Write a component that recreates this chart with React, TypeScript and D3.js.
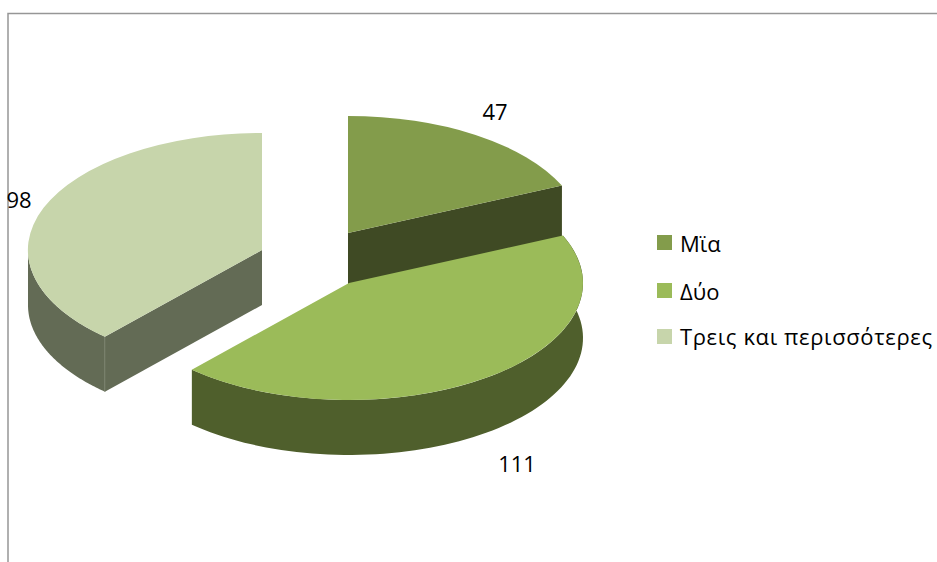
import React from "react";
import * as d3 from "d3";

const categories = ["Μϊα", "Δύο", "Τρεις και περισσότερες"];
const values = [47, 111, 98];
const topColors = ["#839c4b", "#9bbb59", "#c7d5ab"];
const sideColors = ["#3f4a24", "#4f5f2c", "#636b55"];
const rimColors = ["#3f4a24", "#4f5f2c", "#636b55"];
const centers: [number, number][] = [[348, 233], [349, 283], [262, 250]];
const labelPos: [number, number][] = [[495, 120], [517, 472], [19, 208]];
const legendY = [235, 283, 329];
const legendBase = [252, 300, 345];

const W = 937, H = 562, RX = 234, RY = 117, DEPTH = 55;
const FONT = "'Open Sans', sans-serif";

const pie = d3.pie<number>().sort(null).startAngle(0).endAngle(2 * Math.PI);
const arcs = pie(values);
const unit = d3.arc<d3.PieArcDatum<number>>().innerRadius(0).outerRadius(1);

const pt = (c: [number, number], a: number, dz = 0): [number, number] => [
  c[0] + RX * Math.sin(a),
  c[1] - RY * Math.cos(a) + dz,
];

// outer wall: the part of the rim facing the viewer (angles PI/2..3PI/2)
function rimPath(i: number): string | null {
  const a0 = Math.max(arcs[i].startAngle, Math.PI / 2);
  const a1 = Math.min(arcs[i].endAngle, (3 * Math.PI) / 2);
  const from = arcs[i].startAngle < Math.PI / 2 && arcs[i].endAngle > Math.PI / 2 ? arcs[i].startAngle : a0;
  if (a1 <= from) return null;
  const s = d3.scaleLinear().domain([0, 80]).range([from, a1]);
  const top = d3.range(81).map((k) => pt(centers[i], s(k)));
  const bottom = d3.range(81).map((k) => pt(centers[i], s(k), DEPTH)).reverse();
  return d3.line()([...top, ...bottom]) + "Z";
}

// radial cut wall facing the viewer
function cutPath(i: number, angle: number): string {
  const c = centers[i];
  return d3.line()([c, pt(c, angle), pt(c, angle, DEPTH), [c[0], c[1] + DEPTH]])! + "Z";
}

export default function App() {
  const order = [2, 0, 1];
  return (
    <svg width={W} height={H} style={{ position: "absolute", left: 0, top: 0, display: "block" }}>
      <rect width={W} height={H} fill="#fff" />
      <path d={`M8 ${H}V13.5H${W}`} fill="none" stroke="#969696" strokeWidth={1.5} />
      {order.map((i) => {
        const cutAngle = i === 0 ? arcs[0].endAngle : arcs[i].startAngle;
        return (
          <g key={i}>
            {i === 2 && <path d={cutPath(2, arcs[2].startAngle)} fill={sideColors[2]} />}
            {i === 0 && <path d={cutPath(0, cutAngle)} fill={sideColors[0]} />}
            {rimPath(i) && <path d={rimPath(i)!} fill={rimColors[i]} />}
            {i === 2 && (
              <line
                x1={pt(centers[2], arcs[2].startAngle)[0]}
                y1={pt(centers[2], arcs[2].startAngle)[1]}
                x2={pt(centers[2], arcs[2].startAngle)[0]}
                y2={pt(centers[2], arcs[2].startAngle, DEPTH)[1]}
                stroke="#7c846f"
                strokeWidth={0.8}
              />
            )}
            <path
              transform={`translate(${centers[i][0]},${centers[i][1]}) scale(${RX},${RY})`}
              d={unit(arcs[i])!}
              fill={topColors[i]}
            />
          </g>
        );
      })}
      {values.map((v, i) => (
        <text key={i} x={labelPos[i][0]} y={labelPos[i][1]} textAnchor="middle" fontFamily={FONT} fontSize={22} fill="#000">
          {v}
        </text>
      ))}
      {categories.map((c, i) => (
        <g key={c}>
          <rect x={657} y={legendY[i]} width={15} height={15} fill={topColors[i]} />
          <text x={680} y={legendBase[i]} fontFamily={FONT} fontSize={22} fill="#000" textLength={i === 2 ? 252 : undefined}>
            {c}
          </text>
        </g>
      ))}
    </svg>
  );
}
